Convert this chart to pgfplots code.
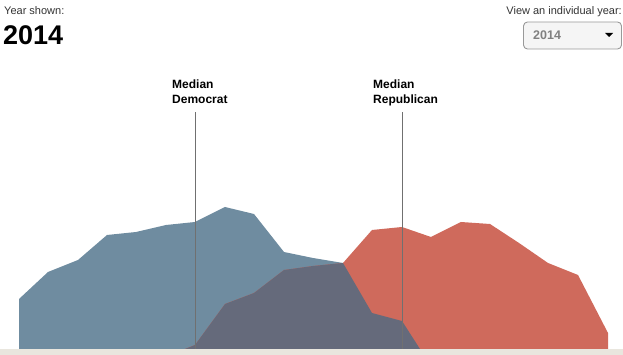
\documentclass[border=0pt]{standalone}
\usepackage{pgfplots}
\pgfplotsset{compat=1.18}
\usepackage{fontspec}
\setmainfont{Liberation Sans}
\definecolor{dem}{HTML}{6F8CA0}
\definecolor{rep}{HTML}{CF6A5C}
\definecolor{both}{HTML}{656A7B}
\definecolor{band}{HTML}{E9E6DE}
\definecolor{medline}{HTML}{707070}
\begin{document}
\begin{tikzpicture}[x=1pt,y=1pt]
\useasboundingbox (0,0) rectangle (623,355);
\begin{axis}[at={(0,0)},anchor=south west,scale only axis,width=623pt,height=355pt,
  xmin=0,xmax=623,ymin=0,ymax=355,axis lines=none,clip=false]
% bottom band
\addplot[fill=band,draw=none] coordinates {(0,0) (623,0) (623,6) (0,6)} -- cycle;
% Democrat distribution
\addplot[fill=dem,draw=none] coordinates {(19,6) (19,56) (48,83) (78,95) (107,120) (136,123) (166,130) (195,133) (225,148) (254,141) (284,103) (313,97) (343,92) (372,42) (402,34) (420,6)} -- cycle;
% Republican distribution
\addplot[fill=rep,draw=none] coordinates {(185,6) (195,10) (225,51) (254,62) (284,85) (313,89) (343,92) (372,125) (402,128) (431,118) (461,133) (490,131) (519,112) (548,92) (578,80) (608,22) (608,6)} -- cycle;
% Overlap
\addplot[fill=both,draw=none] coordinates {(185,6) (195,10) (225,51) (254,62) (284,85) (313,89) (343,92) (372,42) (402,34) (420,6)} -- cycle;
% Median lines
\addplot[draw=medline,line width=1pt] coordinates {(195,6) (195,243)};
\addplot[draw=medline,line width=1pt] coordinates {(402,6) (402,243)};
% labels
\node[anchor=base west,inner sep=0pt,font=\fontsize{12}{15}\selectfont\bfseries,align=left] at (axis cs:172,266) {Median};
\node[anchor=base west,inner sep=0pt,font=\fontsize{12}{15}\selectfont\bfseries] at (axis cs:172,251) {Democrat};
\node[anchor=base west,inner sep=0pt,font=\fontsize{12}{15}\selectfont\bfseries] at (axis cs:373,266) {Median};
\node[anchor=base west,inner sep=0pt,font=\fontsize{12}{15}\selectfont\bfseries] at (axis cs:373,251) {Republican};
% header
\node[anchor=base west,inner sep=0pt,font=\fontsize{11}{13}\selectfont,text=black!80] at (axis cs:4,340) {Year shown:};
\node[anchor=base west,inner sep=0pt,font=\fontsize{27}{30}\selectfont\bfseries] at (axis cs:3,310) {2014};
\node[anchor=base east,inner sep=0pt,font=\fontsize{11}{13}\selectfont,text=black!80] at (axis cs:622,340) {View an individual year:};
\draw[rounded corners=4pt,fill=black!4,draw=black!40,line width=0.9pt] (axis cs:523.5,306) rectangle (axis cs:621.5,333);
\node[anchor=base west,inner sep=0pt,font=\fontsize{12.5}{14}\selectfont\bfseries,text=black!50] at (axis cs:533,315) {2014};
\fill[black] (axis cs:605,322) -- (axis cs:613,322) -- (axis cs:609,318) -- cycle;
\end{axis}
\end{tikzpicture}
\end{document}
